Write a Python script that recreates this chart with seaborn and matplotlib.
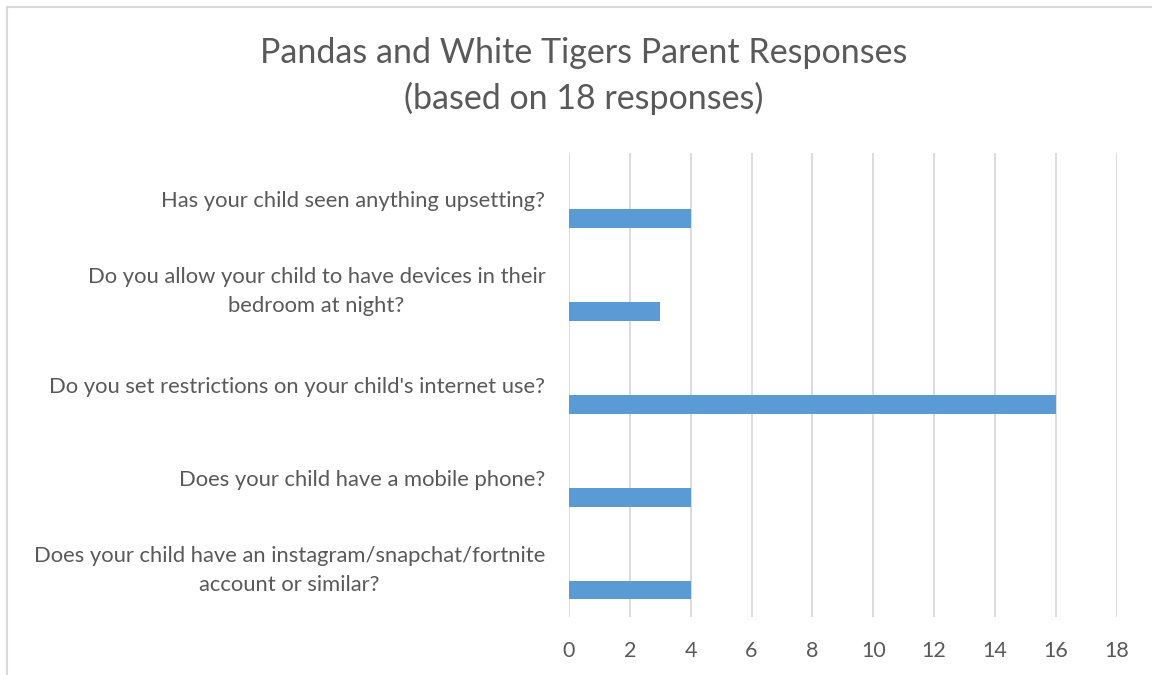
import matplotlib
matplotlib.use("Agg")
import matplotlib.pyplot as plt
import seaborn as sns
import pandas as pd
from matplotlib.patches import Rectangle

# ---- data ----
questions = [
    "Has your child seen anything upsetting?",
    "Do you allow your child to have devices in their\nbedroom at night?",
    "Do you set restrictions on your child's internet use?",
    "Does your child have a mobile phone?",
    "Does your child have an instagram/snapchat/fortnite\naccount or similar?",
]
responses = [4, 3, 16, 4, 4]
series_order = ["(blank)", "Responses"]   # Excel reserves a slot for an empty series
x_ticks = [0, 2, 4, 6, 8, 10, 12, 14, 16, 18]
title_text = "Pandas and White Tigers Parent Responses\n(based on 18 responses)"

df = pd.DataFrame({"question": questions, "count": responses, "series": "Responses"})

sns.set_theme(style="white")
plt.rcParams['font.family'] = ['Lato', 'DejaVu Sans']

TEXT = "#595959"
GRID = "#D9D9D9"
BAR = "#5B9BD5"

W, H = 1152, 675
fig = plt.figure(figsize=(W / 100, H / 100), dpi=100)
fig.patch.set_facecolor("white")

left, right, top, bottom = 569, 1116.6, 152.5, 617
ax = fig.add_axes([left / W, 1 - bottom / H, (right - left) / W, (bottom - top) / H])

sns.barplot(data=df, y="question", x="count", hue="series", hue_order=series_order,
            palette={series_order[0]: BAR, series_order[1]: BAR},
            orient="y", width=0.84, gap=0.52, dodge=True, legend=False,
            errorbar=None, saturation=1, linewidth=0, ax=ax, zorder=3)

ax.set_xlim(0, 18)
ax.set_xticks(x_ticks)
ax.set_xticklabels([str(t) for t in x_ticks])
ax.grid(axis="x", color=GRID, linewidth=1.3, zorder=0)
ax.grid(axis="y", visible=False)
ax.set_axisbelow(True)
for s in ax.spines.values():
    s.set_visible(False)
ax.set_xlabel("")
ax.set_ylabel("")
ax.tick_params(axis="x", length=0, pad=17, labelsize=15.5, labelcolor=TEXT)
ax.tick_params(axis="y", length=0, pad=17, labelsize=15.8, labelcolor=TEXT)
for lbl in ax.get_yticklabels():
    lbl.set_multialignment("center")
    lbl.set_linespacing(1.55)
    if "\n" in lbl.get_text():
        lbl.set_verticalalignment("center")

fig.text(583.5 / W, 1 - 76 / H, title_text, ha="center", va="center",
         fontsize=24.5, color=TEXT, linespacing=1.45)

fig.add_artist(Rectangle((7 / W, -0.1), 1.2, 1 - 7 / H + 0.1, transform=fig.transFigure,
                         fill=False, edgecolor=GRID, linewidth=1.5))

fig.savefig("out.png", dpi=100)
